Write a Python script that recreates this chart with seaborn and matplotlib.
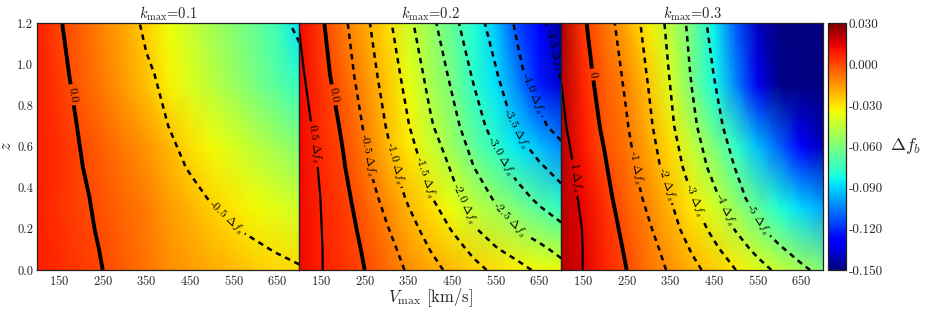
import numpy as np
import matplotlib
matplotlib.use("Agg")
import matplotlib.pyplot as plt
from matplotlib.ticker import FormatStrFormatter
import seaborn as sns

# ---------------- data ----------------
V_NODES = [100, 150, 200, 250, 300, 350, 400, 450, 500, 550, 600, 650, 700]
Z_SIGNAL = [0.0, 0.1, 0.2, 0.35, 0.5, 0.7, 0.95, 1.2]
Z_COLOUR = [0.0, 0.3, 0.6, 0.9, 1.2]
K_MAX_LABELS = ["0.1", "0.2", "0.3"]

# contour field  (Delta f_b in units of Delta f_s), rows follow Z_SIGNAL
signal_k01 = [
    [0.16, 0.10, 0.05, 0.00, -0.05, -0.10, -0.15, -0.20, -0.25, -0.31, -0.36, -0.42, -0.47],
    [0.18, 0.12, 0.05, -0.01, -0.08, -0.14, -0.20, -0.27, -0.33, -0.39, -0.46, -0.52, -0.58],
    [0.21, 0.13, 0.05, -0.03, -0.10, -0.18, -0.26, -0.34, -0.42, -0.49, -0.55, -0.60, -0.66],
    [0.23, 0.13, 0.04, -0.06, -0.15, -0.25, -0.34, -0.43, -0.52, -0.58, -0.64, -0.69, -0.75],
    [0.23, 0.12, 0.01, -0.10, -0.20, -0.31, -0.42, -0.52, -0.58, -0.64, -0.70, -0.77, -0.83],
    [0.21, 0.09, -0.02, -0.14, -0.26, -0.38, -0.50, -0.56, -0.62, -0.68, -0.74, -0.80, -0.87],
    [0.18, 0.06, -0.07, -0.20, -0.33, -0.47, -0.55, -0.61, -0.68, -0.74, -0.81, -0.88, -0.95],
    [0.15, 0.02, -0.12, -0.26, -0.41, -0.54, -0.61, -0.67, -0.74, -0.81, -0.89, -0.96, -1.03],
]
signal_k02 = [
    [0.78, 0.52, 0.26, 0.00, -0.27, -0.55, -0.84, -1.11, -1.36, -1.60, -1.84, -2.09, -2.34],
    [0.80, 0.52, 0.23, -0.05, -0.35, -0.67, -1.01, -1.30, -1.61, -1.96, -2.19, -2.40, -2.62],
    [0.82, 0.51, 0.20, -0.12, -0.46, -0.83, -1.18, -1.53, -1.96, -2.25, -2.52, -2.71, -2.91],
    [0.83, 0.49, 0.14, -0.25, -0.65, -1.06, -1.46, -1.86, -2.22, -2.56, -2.83, -3.10, -3.34],
    [0.83, 0.44, 0.05, -0.41, -0.83, -1.26, -1.66, -2.05, -2.50, -2.85, -3.16, -3.44, -3.68],
    [0.72, 0.33, -0.07, -0.55, -1.02, -1.48, -1.94, -2.35, -2.78, -3.20, -3.58, -3.90, -4.18],
    [0.60, 0.18, -0.26, -0.73, -1.20, -1.68, -2.15, -2.59, -3.06, -3.46, -3.90, -4.23, -4.53],
    [0.48, 0.07, -0.39, -0.88, -1.38, -1.89, -2.36, -2.86, -3.30, -3.70, -4.07, -4.40, -4.72],
]
signal_k03 = [
    [1.50, 0.99, 0.50, 0.00, -0.55, -1.11, -1.73, -2.36, -3.00, -3.63, -4.22, -4.78, -5.33],
    [1.53, 0.99, 0.45, -0.10, -0.68, -1.33, -2.09, -2.80, -3.55, -4.24, -4.85, -5.46, -6.07],
    [1.55, 0.97, 0.38, -0.22, -0.88, -1.65, -2.45, -3.26, -4.07, -4.81, -5.54, -6.28, -7.00],
    [1.46, 0.85, 0.24, -0.45, -1.22, -2.00, -2.98, -3.80, -4.63, -5.47, -6.30, -7.13, -7.97],
    [1.35, 0.73, 0.08, -0.69, -1.50, -2.44, -3.43, -4.27, -5.05, -5.83, -6.60, -7.40, -8.17],
    [1.15, 0.51, -0.16, -0.94, -1.81, -2.83, -3.81, -4.67, -5.50, -6.33, -7.17, -8.00, -8.80],
    [0.97, 0.32, -0.41, -1.18, -2.08, -3.06, -4.09, -5.02, -5.95, -6.90, -7.80, -8.70, -9.60],
    [0.87, 0.12, -0.63, -1.45, -2.33, -3.25, -4.30, -5.36, -6.40, -7.50, -8.50, -9.60, -10.70],
]

# colour field  Delta f_b, rows follow Z_COLOUR
dfb_k01 = [
    [0.008, 0.006, 0.003, 0.000, -0.004, -0.008, -0.013, -0.016, -0.019, -0.022, -0.025, -0.027, -0.029],
    [0.008, 0.004, 0.001, -0.002, -0.006, -0.010, -0.016, -0.020, -0.026, -0.030, -0.034, -0.038, -0.042],
    [0.008, 0.005, 0.000, -0.005, -0.010, -0.015, -0.021, -0.029, -0.034, -0.040, -0.046, -0.052, -0.058],
    [0.008, 0.003, -0.004, -0.010, -0.016, -0.023, -0.032, -0.039, -0.046, -0.053, -0.061, -0.068, -0.076],
    [0.008, 0.001, -0.005, -0.012, -0.018, -0.026, -0.035, -0.043, -0.051, -0.058, -0.065, -0.074, -0.088],
]
dfb_k02 = [
    [0.012, 0.008, 0.004, 0.000, -0.006, -0.013, -0.018, -0.022, -0.026, -0.029, -0.032, -0.034, -0.036],
    [0.012, 0.007, 0.003, -0.004, -0.012, -0.021, -0.029, -0.036, -0.045, -0.052, -0.060, -0.068, -0.076],
    [0.012, 0.006, 0.000, -0.010, -0.021, -0.031, -0.042, -0.053, -0.066, -0.077, -0.087, -0.094, -0.103],
    [0.012, 0.004, -0.004, -0.013, -0.024, -0.036, -0.050, -0.061, -0.077, -0.088, -0.104, -0.123, -0.137],
    [0.012, 0.002, -0.009, -0.018, -0.028, -0.042, -0.054, -0.066, -0.080, -0.093, -0.115, -0.130, -0.146],
]
dfb_k03 = [
    [0.022, 0.015, 0.007, 0.000, -0.008, -0.014, -0.020, -0.025, -0.031, -0.038, -0.044, -0.052, -0.058],
    [0.022, 0.013, 0.005, -0.004, -0.012, -0.021, -0.031, -0.041, -0.054, -0.066, -0.080, -0.089, -0.098],
    [0.022, 0.009, -0.002, -0.008, -0.018, -0.029, -0.045, -0.060, -0.076, -0.094, -0.110, -0.128, -0.142],
    [0.022, 0.007, -0.004, -0.011, -0.024, -0.040, -0.061, -0.082, -0.104, -0.132, -0.148, -0.160, -0.165],
    [0.023, 0.003, -0.008, -0.019, -0.032, -0.047, -0.063, -0.085, -0.112, -0.140, -0.160, -0.170, -0.180],
]

# contour levels per panel
labelled_neg = [[-0.5],
                [-4.5, -4.0, -3.5, -3.0, -2.5, -2.0, -1.5, -1.0, -0.5],
                [-5, -4, -3, -2, -1]]
unlabelled_neg = [[-1.0], [], []]
pos_levels = [[], [0.5], [1]]
# where the inline labels sit (V, z)
neg_label_pos = [[(530, 0.25)],
                 [(679, 1.07), (624, 0.85), (592, 0.68), (553, 0.54), (578, 0.24),
                  (478, 0.32), (388, 0.45), (317, 0.52), (258, 0.56)],
                 [(546, 0.24), (475, 0.29), (404, 0.34), (342, 0.42), (274, 0.50)]]
zero_label_pos = [(177, 0.85), (176, 0.85), (173, 0.95)]
pos_label_pos = [[], [(131, 0.61)], [(136, 0.45)]]
label_decimals = [1, 1, 0]

X_TICKS = [150, 250, 350, 450, 550, 650]
Y_TICKS = [0.0, 0.2, 0.4, 0.6, 0.8, 1.0, 1.2]
CBAR_TICKS = [0.03, 0.0, -0.03, -0.06, -0.09, -0.12, -0.15]

# ---------------- style ----------------
sns.set_style("ticks")
plt.rcParams.update({
    "font.family": "serif",
    "font.serif": ["cmr10", "DejaVu Serif"],
    "mathtext.fontset": "cm",
    "axes.unicode_minus": False,
    "axes.formatter.use_mathtext": True,
    "xtick.direction": "in",
    "ytick.direction": "in",
    "xtick.top": True,
    "ytick.right": True,
    "xtick.major.size": 3.5,
    "ytick.major.size": 3.5,
    "xtick.major.width": 0.7,
    "ytick.major.width": 0.7,
    "axes.edgecolor": "#222222",
    "axes.linewidth": 0.9,
    "lines.dashed_pattern": [2.2, 1.9],
})

cmap = matplotlib.colormaps["jet"]
signals = [signal_k01, signal_k02, signal_k03]
colours = [dfb_k01, dfb_k02, dfb_k03]

W, H = 926, 309
fig = plt.figure(figsize=(W / 100, H / 100), dpi=100)
ax_bottom = (H - 270) / H
ax_height = 247 / H
panel_w = 262 / W
x_start = 37.2 / W

V = np.array(V_NODES, dtype=float)
ZS = np.array(Z_SIGNAL, dtype=float)
ZC = np.array(Z_COLOUR, dtype=float)

mesh = None
axes = []
for i in range(3):
    ax = fig.add_axes([x_start + i * panel_w, ax_bottom, panel_w, ax_height])
    axes.append(ax)
    mesh = ax.pcolormesh(V, ZC, np.array(colours[i]), shading="gouraud",
                         cmap=cmap, vmin=-0.15, vmax=0.03)
    S = np.array(signals[i])
    dec = label_decimals[i]

    def fmt(v, dec=dec):
        if abs(v) < 1e-9:
            return "0.0" if dec == 1 else "0"
        return (f"{v:.{dec}f}" + r" $\Delta f_s$")

    cs_neg = ax.contour(V, ZS, S, levels=labelled_neg[i], colors="k",
                        linewidths=1.8, linestyles="dashed")
    ax.clabel(cs_neg, manual=neg_label_pos[i],
              inline=True, fmt=fmt, fontsize=8.5, inline_spacing=3)
    if unlabelled_neg[i]:
        ax.contour(V, ZS, S, levels=unlabelled_neg[i], colors="k",
                   linewidths=1.8, linestyles="dashed")
    cs_zero = ax.contour(V, ZS, S, levels=[0.0], colors="k",
                         linewidths=2.8, linestyles="solid")
    ax.clabel(cs_zero, manual=[zero_label_pos[i]], inline=True, fmt=fmt,
              fontsize=8.5, inline_spacing=3)
    if pos_levels[i]:
        cs_pos = ax.contour(V, ZS, S, levels=pos_levels[i], colors="k",
                            linewidths=1.6, linestyles="solid")
        ax.clabel(cs_pos, manual=pos_label_pos[i], inline=True, fmt=fmt,
                  fontsize=8.5, inline_spacing=3)

    ax.set_xlim(100, 700)
    ax.set_ylim(0, 1.2)
    ax.set_xticks(X_TICKS)
    ax.set_yticks(Y_TICKS)
    ax.tick_params(labelsize=9, pad=3)
    ax.set_title(r"$k_{\rm max}$=" + K_MAX_LABELS[i], fontsize=10.5, pad=3)
    if i == 0:
        ax.yaxis.set_major_formatter(FormatStrFormatter("%.1f"))
        ax.set_ylabel(r"$z$", fontsize=12, labelpad=2)
    else:
        ax.tick_params(labelleft=False)

axes[1].set_xlabel(r"$V_{\rm max}$ [km/s]", fontsize=12, labelpad=-1)

cax = fig.add_axes([828 / W, ax_bottom, 18 / W, ax_height])
cb = fig.colorbar(mesh, cax=cax, ticks=CBAR_TICKS)
cb.ax.yaxis.set_major_formatter(FormatStrFormatter("%.3f"))
cb.ax.tick_params(labelsize=9.5, direction="in", length=3, right=True, left=False, pad=2)
cb.outline.set_linewidth(0.9)
cb.set_label(r"$\Delta f_b$", rotation=0, fontsize=13, labelpad=5,
             va="center", ha="left")

fig.savefig("out.png", dpi=100)
